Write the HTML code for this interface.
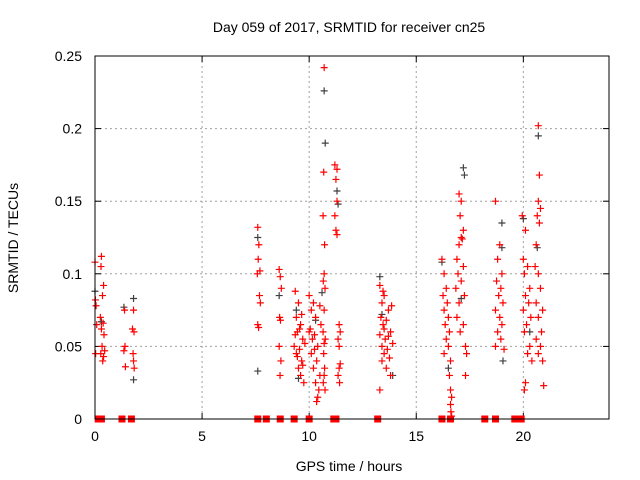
<!DOCTYPE html>
<html><head><meta charset="utf-8"><style>
body{margin:0;background:#fff;}
svg{display:block;font-family:"Liberation Sans",sans-serif;}
</style></head><body>
<svg id="chart" width="640" height="480">
<text x="349" y="32" font-size="14" text-anchor="middle">Day 059 of 2017, SRMTID for receiver cn25</text>
<text x="349" y="471" font-size="14" text-anchor="middle">GPS time / hours</text>
<text transform="translate(18,238) rotate(-90)" font-size="14" text-anchor="middle">SRMTID / TECUs</text>
<g id="grid"></g>
<g id="ticks"></g>
<g id="black"></g>
<g id="red"></g>
<g id="squares"></g>
<rect x="95" y="56" width="514" height="363" fill="none" stroke="#000" stroke-width="1"/>
</svg>
<script>
const xTicks=[0,5,10,15,20];
const yTicks=[0,0.05,0.1,0.15,0.2,0.25];
const yTickLabels=["0","0.05","0.1","0.15","0.2","0.25"];
const zeroHours=[0.15,0.3,1.26,1.7,7.6,8.0,8.65,9.3,10.0,11.15,11.25,13.2,16.2,16.6,18.2,18.7,19.6,19.9];
const redPts=[[0,0.108],[0.02,0.082],[0.05,0.078],[0.03,0.045],[0.08,0.065],
[0.3,0.112],[0.28,0.105],[0.4,0.092],[0.35,0.085],[0.25,0.07],[0.38,0.066],[0.3,0.062],[0.42,0.058],[0.33,0.05],[0.27,0.045],[0.36,0.04],[0.4,0.043],[0.45,0.047],
[1.38,0.075],[1.4,0.05],[1.35,0.047],[1.42,0.036],
[1.8,0.075],[1.75,0.062],[1.82,0.06],[1.78,0.045],[1.8,0.04],[1.83,0.035],
[7.6,0.132],[7.65,0.12],[7.62,0.11],[7.7,0.102],[7.58,0.1],[7.68,0.085],[7.72,0.08],[7.6,0.065],[7.64,0.063],
[8.6,0.103],[8.65,0.098],[8.7,0.09],[8.62,0.07],[8.66,0.068],[8.6,0.05],[8.68,0.04],[8.64,0.03],
[9.35,0.088],[9.5,0.08],[9.4,0.07],[9.6,0.065],[9.45,0.06],[9.7,0.055],[9.3,0.05],[9.55,0.048],[9.4,0.045],[9.65,0.04],[9.5,0.035],[9.6,0.03],[9.75,0.025],[9.35,0.058],[9.8,0.052],[9.45,0.043],[9.7,0.037],[9.55,0.062],[9.65,0.072],
[10.0,0.085],[10.2,0.08],[10.1,0.075],[10.3,0.07],[10.05,0.062],[10.25,0.058],[10.15,0.055],[10.4,0.05],[10.1,0.045],[10.35,0.04],[10.2,0.035],[10.5,0.03],[10.3,0.025],[10.45,0.02],[10.4,0.015],[10.35,0.012],[10.55,0.065],[10.0,0.06],[10.5,0.078],[10.25,0.048],
[10.7,0.242],[10.68,0.17],[10.65,0.14],[10.72,0.12],[10.7,0.1],[10.66,0.095],[10.74,0.09],[10.7,0.075],[10.65,0.06],[10.75,0.055],[10.7,0.052],[10.68,0.045],[10.72,0.035],[10.7,0.03],[10.66,0.025],[10.74,0.02],
[11.2,0.175],[11.3,0.172],[11.25,0.165],[11.3,0.15],[11.2,0.14],[11.25,0.13],[11.3,0.127],[11.4,0.065],[11.45,0.06],[11.35,0.055],[11.4,0.05],[11.45,0.038],[11.4,0.035],[11.35,0.03],[11.42,0.025],
[13.3,0.092],[13.5,0.085],[13.4,0.08],[13.7,0.075],[13.35,0.07],[13.6,0.068],[13.45,0.065],[13.8,0.06],[13.3,0.058],[13.55,0.055],[13.9,0.052],[13.4,0.05],[13.65,0.048],[13.5,0.045],[13.75,0.042],[13.4,0.04],[13.6,0.035],[13.8,0.03],[13.3,0.02],[13.45,0.088],[13.85,0.078],[13.7,0.057],[13.5,0.062],
[16.2,0.11],[16.3,0.1],[16.4,0.09],[16.25,0.085],[16.45,0.08],[16.3,0.075],[16.5,0.07],[16.35,0.065],[16.55,0.06],[16.4,0.055],[16.5,0.05],[16.3,0.045],[16.6,0.04],[16.55,0.03],[16.6,0.02],[16.65,0.015],[16.6,0.01],[16.62,0.005],[16.65,0.002],
[17.0,0.155],[17.1,0.15],[17.05,0.14],[17.2,0.13],[17.1,0.125],[17.15,0.124],[17.0,0.12],[16.9,0.11],[17.2,0.105],[16.95,0.1],[17.1,0.095],[16.85,0.09],[17.25,0.085],[17.0,0.08],[16.9,0.07],[17.2,0.065],[17.05,0.06],[17.3,0.05],[17.35,0.045],[17.3,0.03],
[18.7,0.15],[18.9,0.12],[18.8,0.11],[19.0,0.1],[18.75,0.095],[18.95,0.09],[18.85,0.085],[19.05,0.08],[18.7,0.075],[18.9,0.07],[19.0,0.065],[18.8,0.06],[18.95,0.055],[18.7,0.05],[19.1,0.048],
[19.95,0.14],[20.1,0.13],[20.0,0.11],[20.2,0.105],[20.05,0.1],[20.3,0.09],[20.1,0.085],[20.25,0.08],[20.0,0.075],[20.35,0.07],[20.15,0.065],[20.05,0.06],[20.3,0.05],[20.2,0.045],[20.4,0.04],[20.1,0.025],[20.05,0.02],
[20.7,0.202],[20.75,0.168],[20.7,0.15],[20.8,0.145],[20.65,0.14],[20.75,0.135],[20.6,0.12],[20.55,0.105],[20.7,0.1],[20.8,0.09],[20.6,0.08],[20.9,0.075],[20.7,0.07],[20.85,0.06],[20.6,0.055],[20.8,0.05],[20.7,0.045],[20.9,0.04],[20.95,0.023]];
const blackPts=[[0,0.088],[0.3,0.067],[1.35,0.077],[1.8,0.083],[1.8,0.027],[7.6,0.125],[7.6,0.033],[8.6,0.085],[9.4,0.075],[9.5,0.028],[10.3,0.068],[10.7,0.226],[10.75,0.19],[10.6,0.087],[11.3,0.157],[11.35,0.148],[13.3,0.098],[13.4,0.072],[13.9,0.03],[16.2,0.108],[16.6,0.0],[16.5,0.035],[17.2,0.173],[17.25,0.168],[17.1,0.083],[19.0,0.135],[19.0,0.118],[19.05,0.04],[20.0,0.138],[20.7,0.195],[20.65,0.118],[20.3,0.06]];
const X=h=>95+h*(514/24), Y=v=>419-v*(363/0.25);
const NS="http://www.w3.org/2000/svg";
function mk(tag,attrs,parent){const e=document.createElementNS(NS,tag);for(const k in attrs)e.setAttribute(k,attrs[k]);parent.appendChild(e);return e;}
const grid=document.getElementById('grid'),ticks=document.getElementById('ticks');
xTicks.forEach(t=>{const x=X(t);
 if(t>0){const g=mk('line',{x1:x,x2:x,y1:56,y2:419,stroke:'#a0a0a0','stroke-dasharray':'2,3'},grid);
 
 }
 mk('line',{x1:x,x2:x,y1:419,y2:413,stroke:'#000'},ticks);mk('line',{x1:x,x2:x,y1:56,y2:62,stroke:'#000'},ticks);
 const l=mk('text',{x:x,y:441,'font-size':14,'text-anchor':'middle'},ticks);l.textContent=t;
 
 });
yTicks.forEach((t,i)=>{const y=Y(t);
 if(t>0&&t<0.25){const g=mk('line',{x1:95,x2:609,y1:y,y2:y,stroke:'#a0a0a0','stroke-dasharray':'2,3'},grid);
 
 }
 mk('line',{x1:95,x2:101,y1:y,y2:y,stroke:'#000'},ticks);mk('line',{x1:609,x2:603,y1:y,y2:y,stroke:'#000'},ticks);
 const l=mk('text',{x:82,y:y+5,'font-size':14,'text-anchor':'end'},ticks);l.textContent=yTickLabels[i];
 
 });
function plus(p,color,g){const x=X(p[0]),y=Y(p[1]);
 const e=mk('path',{d:`M${x-3.5},${y}H${x+3.5}M${x},${y-3.5}V${y+3.5}`,stroke:color,'stroke-width':1.2,fill:'none'},g);
 
 }
blackPts.forEach(p=>plus(p,'#404040',document.getElementById('black')));
redPts.forEach(p=>plus(p,'#f00',document.getElementById('red')));
zeroHours.forEach(h=>{const e=mk('rect',{x:X(h)-3.5,y:415.5,width:7,height:7,fill:'#f00'},document.getElementById('squares'));
 
 });
</script>
</body></html>
